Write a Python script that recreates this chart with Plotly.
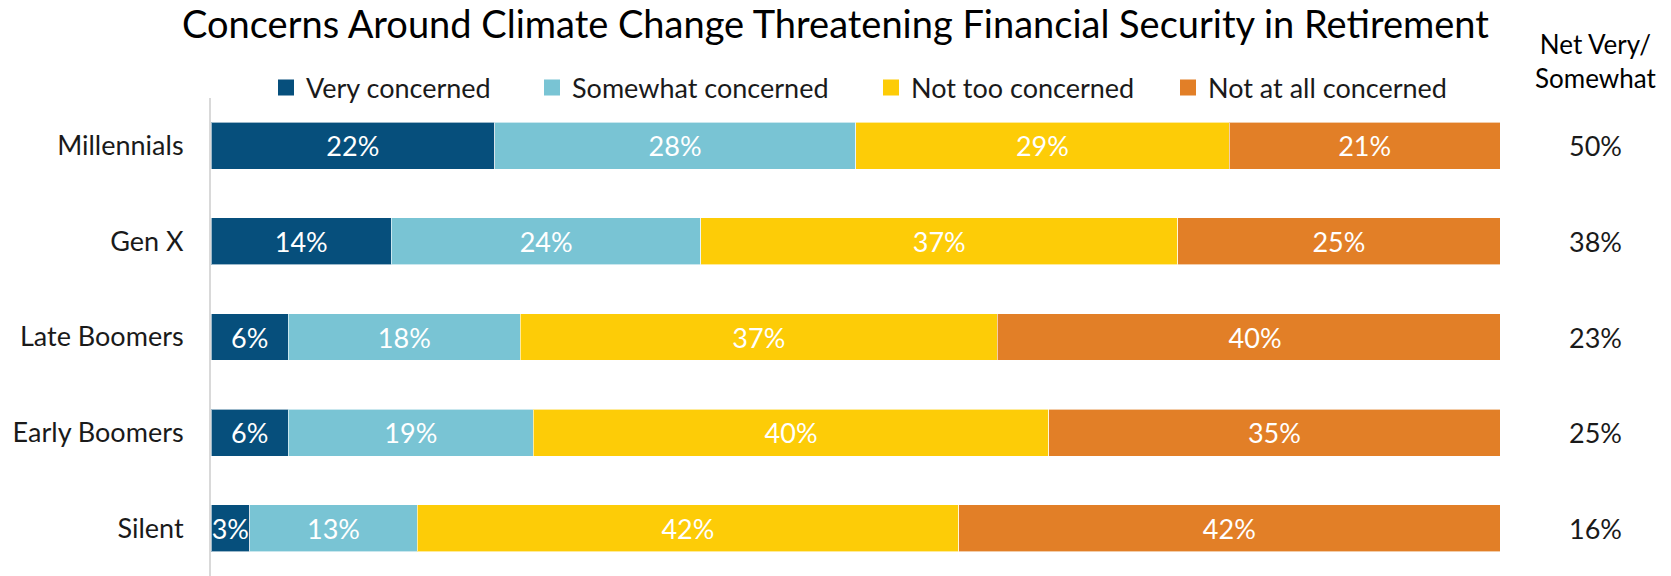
import plotly.graph_objects as go

# Survey results: share of each generation by level of concern (%)
generations = ["Millennials", "Gen X", "Late Boomers", "Early Boomers", "Silent"]
very_concerned = [22, 14, 6, 6, 3]
somewhat_concerned = [28, 24, 18, 19, 13]
not_too_concerned = [29, 37, 37, 40, 42]
not_at_all_concerned = [21, 25, 40, 35, 42]
net_very_somewhat = [50, 38, 23, 25, 16]

series_names = ["Very concerned", "Somewhat concerned", "Not too concerned", "Not at all concerned"]
series_values = [very_concerned, somewhat_concerned, not_too_concerned, not_at_all_concerned]
series_colors = ["#064F7C", "#79C4D4", "#FDCC07", "#E27F27"]

FONT = "Lato"
W, H = 1671, 576
M_L, M_R, M_T, M_B = 211, 171, 98, 0
plot_w = W - M_L - M_R
plot_h = H - M_T - M_B


def px_to_paper_x(px):
    return (px - M_L) / plot_w


def px_to_paper_y(py):
    return (H - M_B - py) / plot_h


fig = go.Figure()
legend_keys = ["legend", "legend2", "legend3", "legend4"]
for name, vals, color, lg in zip(series_names, series_values, series_colors, legend_keys):
    fig.add_trace(go.Bar(
        y=generations, x=vals, name=name, orientation="h",
        marker=dict(color=color, line=dict(color="rgba(255,255,255,0.6)", width=1)),
        texttemplate="%{x}%", textposition="inside", insidetextanchor="middle",
        constraintext="none", textangle=0,
        textfont=dict(family=FONT, size=27, color="white"),
        showlegend=False, legendgroup=name, hoverinfo="skip",
    ))
    # square legend key for the series
    fig.add_trace(go.Scatter(
        x=[None], y=[None], mode="markers", name=name,
        marker=dict(symbol="square", size=18, color=color),
        legend=lg, legendgroup=name, showlegend=True, hoverinfo="skip",
    ))

# Net Very/Somewhat column on the right
for gen, val in zip(generations, net_very_somewhat):
    fig.add_annotation(x=px_to_paper_x(1595), xref="paper", y=gen, yref="y",
                       text=f"{val}%", showarrow=False, xanchor="center", yanchor="middle",
                       font=dict(family=FONT, size=27, color="#1a1a1a"))
fig.add_annotation(x=px_to_paper_x(1595), xref="paper", y=px_to_paper_y(61), yref="paper",
                   text="Net Very/<br>Somewhat", showarrow=False, xanchor="center", yanchor="middle",
                   align="center", font=dict(family=FONT, size=26, color="#000000"))

legend_text_starts = [306, 572, 911, 1208]
legend_layout = {}
for lg, tx in zip(legend_keys, legend_text_starts):
    legend_layout[lg] = dict(
        x=px_to_paper_x(tx - 40), xanchor="left", y=px_to_paper_y(88), yanchor="middle",
        orientation="h", font=dict(family=FONT, size=27, color="#1a1a1a"),
        bgcolor="rgba(0,0,0,0)", borderwidth=0, visible=True, itemsizing="trace",
    )

fig.update_layout(
    width=W, height=H,
    margin=dict(l=M_L, r=M_R, t=M_T, b=M_B, pad=0),
    paper_bgcolor="white", plot_bgcolor="white",
    barmode="stack", bargap=0.51, showlegend=True,
    title=dict(text="Concerns Around Climate Change Threatening Financial Security in Retirement",
               x=0.5, xanchor="center", xref="container",
               y=1 - 25 / H, yanchor="middle", yref="container",
               font=dict(family=FONT, size=38, color="#000000")),
    font=dict(family=FONT),
    **legend_layout,
)
fig.update_xaxes(range=[0, 100], visible=False, fixedrange=True)
fig.update_yaxes(autorange="reversed", showline=True, linecolor="#D9D9D9", linewidth=2,
                 showgrid=False, ticks="", ticklabelstandoff=20,
                 tickfont=dict(family=FONT, size=27, color="#1a1a1a"))

fig.write_html("out.html")
